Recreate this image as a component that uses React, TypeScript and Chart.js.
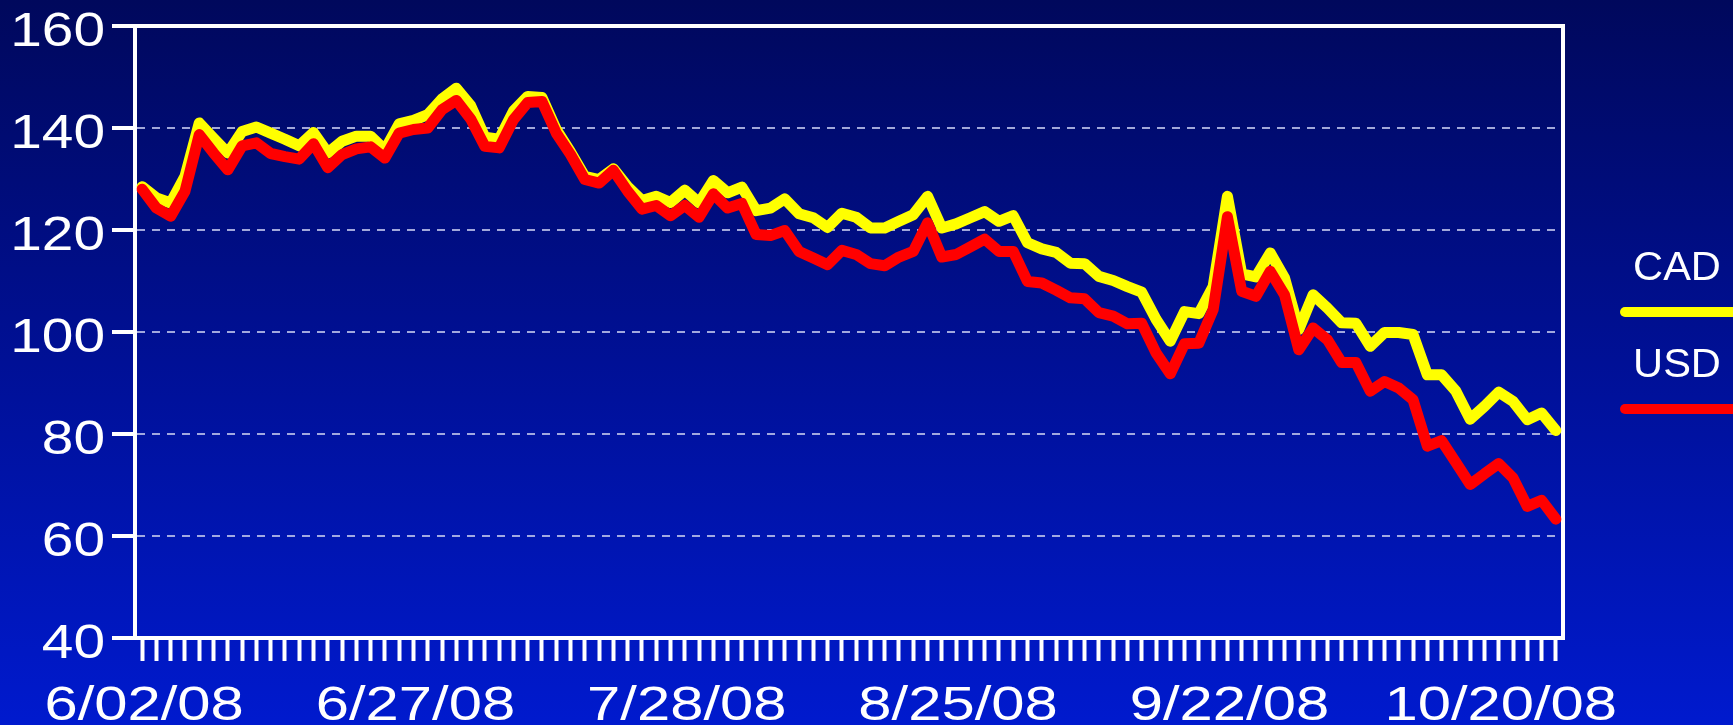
import React, { useEffect, useRef } from 'react';
import { Chart, registerables } from 'chart.js';

Chart.register(...registerables);

// ---- data ----
const tickLabels = ['6/02/08', '6/27/08', '7/28/08', '8/25/08', '9/22/08', '10/20/08'];
const labelStep = 19;
const seriesNames = ['CAD', 'USD'];
const seriesColors = ['#ffff00', '#ff0000'];

const cadValues = [
  128.5, 126.3, 125.3, 130.5, 141.0, 138.0, 135.1, 139.3, 140.2, 139.0,
  137.8, 136.5, 139.1, 135.1, 137.4, 138.4, 138.4, 135.7, 140.8, 141.5,
  142.6, 145.7, 147.8, 144.4, 138.2, 137.8, 143.3, 146.2, 146.0, 139.7,
  135.3, 130.5, 129.9, 132.0, 128.5, 125.8, 126.6, 125.4, 127.8, 125.3,
  129.7, 127.3, 128.4, 123.8, 124.3, 126.1, 123.2, 122.4, 120.5, 123.3,
  122.5, 120.4, 120.4, 121.7, 123.0, 126.6, 120.4, 121.2, 122.4, 123.6,
  121.7, 122.8, 117.5, 116.3, 115.6, 113.5, 113.4, 110.9, 110.1, 108.9,
  107.8, 102.5, 98.2, 104.0, 103.6, 108.9, 126.6, 111.4, 110.8, 115.5,
  110.6, 100.5, 107.3, 104.7, 101.8, 101.7, 97.2, 99.9, 99.9, 99.5,
  91.6, 91.6, 88.4, 82.9, 85.4, 88.2, 86.4, 82.8, 84.1, 80.7,
];

const usdValues = [
  128.0, 124.3, 122.7, 127.6, 138.7, 135.1, 131.8, 136.5, 137.1, 135.0,
  134.4, 133.9, 136.9, 132.2, 134.8, 135.9, 136.3, 134.1, 139.0, 139.7,
  140.0, 143.6, 145.4, 141.8, 136.4, 136.1, 141.6, 145.0, 145.2, 139.0,
  134.8, 129.9, 129.2, 131.7, 127.6, 124.1, 124.8, 122.8, 124.8, 122.5,
  127.1, 124.3, 125.2, 119.1, 118.9, 119.9, 115.8, 114.5, 113.2, 116.0,
  115.2, 113.4, 113.0, 114.7, 115.8, 121.4, 114.7, 115.2, 116.7, 118.2,
  115.8, 115.8, 109.9, 109.6, 108.2, 106.7, 106.5, 103.8, 103.1, 101.6,
  101.7, 95.9, 91.8, 97.7, 97.8, 104.4, 122.6, 108.0, 107.0, 111.9,
  107.3, 96.5, 100.8, 98.5, 94.0, 94.0, 88.4, 90.3, 89.0, 86.7,
  77.6, 78.7, 74.4, 70.1, 72.2, 74.2, 71.4, 65.8, 67.0, 63.3,
];

const yMin = 40;
const yMax = 160;
const yStep = 20;

const categories = cadValues.map((_, i) =>
  i % labelStep === 0 ? tickLabels[i / labelStep] ?? '' : ''
);

const FONT = '"Liberation Sans", Arial, Helvetica, sans-serif';
const X_LABEL_STRETCH = 1.22;
const Y_LABEL_STRETCH = 1.16;

const framePlugin = {
  id: 'plotFrame',
  beforeDatasetsDraw(chart: any) {
    const { ctx, chartArea } = chart;
    ctx.save();
    ctx.strokeStyle = '#ffffff';
    ctx.lineWidth = 4;
    ctx.lineCap = 'square';
    ctx.beginPath();
    ctx.moveTo(chartArea.left, chartArea.top);
    ctx.lineTo(chartArea.right, chartArea.top);
    ctx.lineTo(chartArea.right, chartArea.bottom);
    ctx.stroke();
    ctx.restore();
  },
};

// tick labels drawn slightly widened, as in the source slide
const axisLabelPlugin = {
  id: 'axisLabels',
  afterDraw(chart: any) {
    const { ctx, scales } = chart;
    ctx.save();
    ctx.fillStyle = '#ffffff';
    ctx.font = `49px ${FONT}`;
    ctx.textBaseline = 'alphabetic';
    const xs = scales.x;
    xs.ticks.forEach((t: any, i: number) => {
      const label = xs.getLabelForValue(t.value);
      if (!label) return;
      const x = xs.getPixelForTick(i) + 2;
      ctx.save();
      ctx.translate(x, 720);
      ctx.scale(X_LABEL_STRETCH, 1);
      ctx.textAlign = 'center';
      ctx.fillText(label, 0, 0);
      ctx.restore();
    });
    const ys = scales.y;
    ys.ticks.forEach((t: any, i: number) => {
      const y = ys.getPixelForTick(i) + 20;
      ctx.save();
      ctx.translate(105, y);
      ctx.scale(Y_LABEL_STRETCH, 1);
      ctx.textAlign = 'right';
      ctx.fillText(String(t.value), 0, 0);
      ctx.restore();
    });
    ctx.restore();
  },
};

const sideLegendPlugin = {
  id: 'sideLegend',
  afterDraw(chart: any) {
    const { ctx } = chart;
    ctx.save();
    chart.data.datasets.forEach((ds: any, i: number) => {
      const baseY = 280 + i * 97;
      ctx.fillStyle = '#ffffff';
      ctx.font = `40px ${FONT}`;
      ctx.textAlign = 'center';
      ctx.textBaseline = 'alphabetic';
      ctx.save();
      ctx.translate(1677, baseY);
      ctx.scale(1.04, 1);
      ctx.fillText(ds.label, 0, 0);
      ctx.restore();
      ctx.strokeStyle = ds.borderColor;
      ctx.lineWidth = 10;
      ctx.lineCap = 'round';
      ctx.beginPath();
      ctx.moveTo(1625, baseY + 32);
      ctx.lineTo(1745, baseY + 32);
      ctx.stroke();
    });
    ctx.restore();
  },
};

export default function App() {
  const canvasRef = useRef<HTMLCanvasElement | null>(null);

  useEffect(() => {
    document.body.style.margin = '0';
    const canvas = canvasRef.current;
    if (!canvas) return;
    const chart = new Chart(canvas, {
      type: 'line',
      data: {
        labels: categories,
        datasets: [
          {
            label: seriesNames[0],
            data: cadValues,
            borderColor: seriesColors[0],
            backgroundColor: seriesColors[0],
            borderWidth: 11,
            pointRadius: 0,
            tension: 0,
            borderJoinStyle: 'round',
            borderCapStyle: 'round',
            order: 1,
          },
          {
            label: seriesNames[1],
            data: usdValues,
            borderColor: seriesColors[1],
            backgroundColor: seriesColors[1],
            borderWidth: 11,
            pointRadius: 0,
            tension: 0,
            borderJoinStyle: 'round',
            borderCapStyle: 'round',
            order: 0,
          },
        ],
      },
      options: {
        responsive: false,
        animation: false,
        devicePixelRatio: 1,
        layout: { padding: { top: 26, right: 170, left: 0, bottom: 0 } },
        plugins: {
          legend: { display: false },
          tooltip: { enabled: false },
          title: { display: false },
        },
        scales: {
          x: {
            type: 'category',
            offset: true,
            afterFit: (s: any) => {
              s.height = 87;
              s.paddingLeft = 0;
              s.paddingRight = 0;
            },
            grid: {
              display: true,
              offset: false,
              drawOnChartArea: false,
              drawTicks: true,
              tickLength: 23,
              tickWidth: 4,
              tickColor: '#ffffff',
              tickBorderDash: [],
              color: '#ffffff',
            },
            border: { display: true, color: '#ffffff', width: 4 },
            ticks: {
              display: false,
              autoSkip: false,
              maxRotation: 0,
              minRotation: 0,
            },
          },
          y: {
            min: yMin,
            max: yMax,
            afterFit: (s: any) => {
              s.width = 135;
              s.paddingTop = 0;
              s.paddingBottom = 0;
            },
            grid: {
              display: true,
              drawOnChartArea: true,
              drawTicks: true,
              tickLength: 23,
              tickWidth: 4,
              tickColor: '#ffffff',
              tickBorderDash: [],
              color: 'rgba(190,195,235,0.85)',
              lineWidth: 2,
            },
            border: { display: true, color: '#ffffff', width: 4, dash: [8, 7] },
            ticks: {
              display: false,
              stepSize: yStep,
            },
          },
        },
      },
      plugins: [framePlugin, axisLabelPlugin, sideLegendPlugin],
    } as any);
    return () => chart.destroy();
  }, []);

  return (
    <div
      style={{
        position: 'absolute',
        left: 0,
        top: 0,
        width: 1733,
        height: 725,
        background: 'linear-gradient(to bottom, rgb(0,8,92) 0%, rgb(0,16,150) 50%, rgb(0,26,206) 100%)',
      }}
    >
      <canvas ref={canvasRef} width={1733} height={725} style={{ display: 'block' }} />
    </div>
  );
}
